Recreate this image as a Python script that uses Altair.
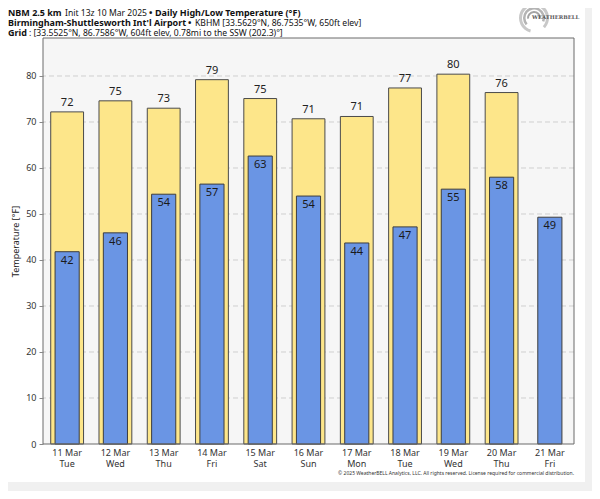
import altair as alt
import pandas as pd

FONT = "Noto Sans"

dates = ["11 Mar", "12 Mar", "13 Mar", "14 Mar", "15 Mar", "16 Mar",
         "17 Mar", "18 Mar", "19 Mar", "20 Mar", "21 Mar"]
days = ["Tue", "Wed", "Thu", "Fri", "Sat", "Sun", "Mon", "Tue", "Wed", "Thu", "Fri"]
highs = [72.2, 74.6, 73.0, 79.2, 75.1, 70.7, 71.2, 77.4, 80.4, 76.4, None]
lows = [41.8, 45.9, 54.3, 56.5, 62.6, 53.9, 43.7, 47.2, 55.4, 58.0, 49.3]
y_ticks = [0, 10, 20, 30, 40, 50, 60, 70, 80]

cats = [f"{d}|{w}" for d, w in zip(dates, days)]
df = pd.DataFrame({"cat": cats, "high": highs, "low": lows})
grid_df = pd.DataFrame({"v": y_ticks[1:]})
one = pd.DataFrame({"a": [0]})

W, H = 531, 406

x_enc = alt.X("cat:N", sort=cats,
              scale=alt.Scale(paddingInner=0, paddingOuter=0),
              axis=alt.Axis(labelExpr="split(datum.label, '|')", labelAngle=0,
                            title=None, ticks=False, domain=False, grid=False,
                            labelFontSize=9, labelColor="#333", labelPadding=4,
                            labelLineHeight=11, zindex=1))
y_scale = alt.Scale(domain=[0, 88.26], nice=False, zero=True)
y_axis = alt.Axis(values=y_ticks, title="Temperature [°F]", grid=False,
                  domain=False, tickSize=4, tickColor="#888", labelFontSize=9,
                  labelColor="#333", titleFontSize=9, titleFontWeight="normal",
                  titleColor="#222", titlePadding=5, labelPadding=3, zindex=1)


def rect(x, x2, y, y2, **kw):
    return alt.Chart(one).mark_rect(**kw).encode(
        x=alt.value(x), x2=alt.value(x2), y=alt.value(y), y2=alt.value(y2))


def txt(s, x, y, bold=False, size=9, color="#111", align="left", font=FONT):
    return alt.Chart(one).mark_text(
        text=s, align=align, baseline="middle", fontSize=size,
        fontWeight="bold" if bold else "normal", color=color, font=font
    ).encode(x=alt.value(x), y=alt.value(y))


fig_bg = rect(-35, 542, -30, 444, color="white")
plot_bg = rect(0, W, 0, H, color="#f6f6f6")

grid = alt.Chart(grid_df).mark_rule(strokeDash=[5, 3], color="#cfcfcf", strokeWidth=1).encode(
    y=alt.Y("v:Q", scale=y_scale, axis=y_axis))

base = alt.Chart(df)
high_bars = base.mark_bar(width=alt.RelativeBandSize(0.68), color="#fde68a",
                          stroke="#4a4a4a", strokeWidth=1).encode(
    x=x_enc, y=alt.Y("high:Q", scale=y_scale, axis=y_axis))
low_bars = base.mark_bar(width=alt.RelativeBandSize(0.5), color="#6a95e4",
                         stroke="#3d3d3d", strokeWidth=1).encode(
    x=x_enc, y=alt.Y("low:Q", scale=y_scale, axis=y_axis))
high_txt = base.mark_text(baseline="bottom", dy=-4, fontSize=11, color="#222").encode(
    x=x_enc, y=alt.Y("high:Q", scale=y_scale, axis=y_axis),
    text=alt.Text("high:Q", format=".0f"))
low_txt = base.mark_text(baseline="top", dy=3, fontSize=11, color="#1a1a1a").encode(
    x=x_enc, y=alt.Y("low:Q", scale=y_scale, axis=y_axis),
    text=alt.Text("low:Q", format=".0f"))

border = rect(0, W, 0, H, fillOpacity=0, stroke="#6a6a6a", strokeWidth=1)

L1, L2, L3 = -25, -15, -5
hdr = [
    txt("NBM 2.5 km", -35, L1, bold=True),
    txt("Init 13z 10 Mar 2025", 22, L1, size=8.6),
    txt("•", 106, L1, bold=True),
    txt("Daily High/Low Temperature (°F)", 112, L1, bold=True),
    txt("Birmingham-Shuttlesworth Int'l Airport", -35, L2, bold=True),
    txt("•", 145, L2, bold=True),
    txt("KBHM [33.5629°N, 86.7535°W, 650ft elev]", 152, L2, size=8.6),
    txt("Grid", -35, L3, bold=True),
    txt(": [33.5525°N, 86.7586°W, 604ft elev, 0.78mi to the SSW (202.3)°]", -14, L3, size=8.6),
]

copyright = txt("© 2025 WeatherBELL Analytics, LLC. All rights reserved. License required for commercial distribution.",
                531, 435, size=5, color="#333", align="right")

LX, LY = 491, -20
logo = [
    alt.Chart(one).mark_arc(radius=15, radius2=12, theta=3.4, theta2=8.6, color="#c8c8c8").encode(
        x=alt.value(LX), y=alt.value(LY)),
    alt.Chart(one).mark_arc(radius=11, radius2=8.5, theta=4.0, theta2=8.2, color="#b4b4b4").encode(
        x=alt.value(LX), y=alt.value(LY)),
    alt.Chart(one).mark_arc(radius=7, radius2=5, theta=4.6, theta2=7.9, color="#a4a4a4").encode(
        x=alt.value(LX), y=alt.value(LY)),
    txt("WEATHERBELL", 489, -21, bold=True, size=5.3, color="#555", font="DejaVu Serif"),
]

chart = alt.layer(fig_bg, plot_bg, grid, high_bars, low_bars, high_txt, low_txt,
                  border, *hdr, copyright, *logo).properties(
    width=W, height=H,
    autosize=alt.AutoSizeParams(type="none"),
    padding={"left": 35, "top": 30, "right": 18, "bottom": 47},
    background="#f0f0f0",
).configure(font=FONT).configure_view(stroke=None)

chart.save("out.html", embed_options={"renderer": "svg", "actions": False})
